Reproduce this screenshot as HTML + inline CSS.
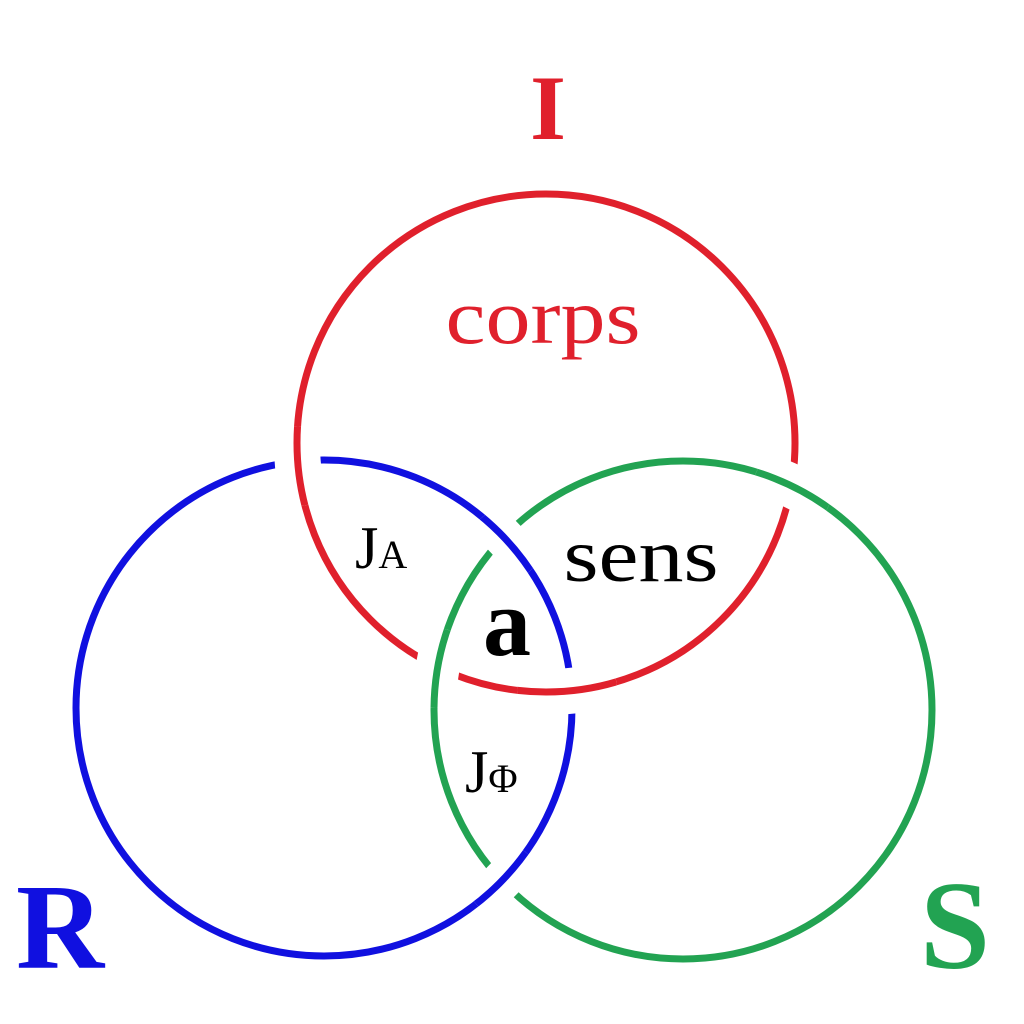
<!DOCTYPE html>
<html><head><style>
html,body{margin:0;padding:0;background:#fff;width:1024px;height:1024px;overflow:hidden}
</style></head><body>
<svg width="1024" height="1024" viewBox="0 0 1024 1024" xmlns="http://www.w3.org/2000/svg">
<defs>
<clipPath id="c1"><circle cx="298" cy="466" r="40"/></clipPath>
<clipPath id="c2"><circle cx="567" cy="690" r="50"/></clipPath>
<clipPath id="c3"><circle cx="505" cy="545" r="36"/></clipPath>
<clipPath id="c4"><circle cx="503" cy="880" r="36"/></clipPath>
<clipPath id="c5"><circle cx="792" cy="490" r="40"/></clipPath>
<clipPath id="c6"><circle cx="436" cy="668" r="40"/></clipPath>
</defs>
<g fill="none" stroke-width="7">
<circle cx="546" cy="443" r="249" stroke="#e0202c"/>
<circle cx="324" cy="708" r="248" stroke="#1010e0"/>
<circle cx="683" cy="710" r="249" stroke="#22a352"/>
<g clip-path="url(#c1)"><circle cx="546" cy="443" r="249" stroke="#fff" stroke-width="46"/><circle cx="546" cy="443" r="249" stroke="#e0202c"/></g>
<g clip-path="url(#c2)"><circle cx="546" cy="443" r="249" stroke="#fff" stroke-width="46"/><circle cx="546" cy="443" r="249" stroke="#e0202c"/></g>
<g clip-path="url(#c3)"><circle cx="324" cy="708" r="248" stroke="#fff" stroke-width="40"/><circle cx="324" cy="708" r="248" stroke="#1010e0"/></g>
<g clip-path="url(#c4)"><circle cx="324" cy="708" r="248" stroke="#fff" stroke-width="40"/><circle cx="324" cy="708" r="248" stroke="#1010e0"/></g>
<g clip-path="url(#c5)"><circle cx="683" cy="710" r="249" stroke="#fff" stroke-width="44"/><circle cx="683" cy="710" r="249" stroke="#22a352"/></g>
<g clip-path="url(#c6)"><circle cx="683" cy="710" r="249" stroke="#fff" stroke-width="44"/><circle cx="683" cy="710" r="249" stroke="#22a352"/></g>
</g>
<g font-family="Liberation Serif, serif">
<text x="548" y="139" font-size="92" font-weight="bold" fill="#e0202c" text-anchor="middle">I</text>
<text x="543" y="343" font-size="78" fill="#e0202c" text-anchor="middle" textLength="195" lengthAdjust="spacingAndGlyphs">corps</text>
<text x="355" y="568" font-size="60" fill="#000">J<tspan font-size="40">A</tspan></text>
<text x="641" y="581" font-size="76" fill="#000" text-anchor="middle" textLength="155" lengthAdjust="spacingAndGlyphs">sens</text>
<text x="507" y="655" font-size="96" font-weight="bold" fill="#000" text-anchor="middle">a</text>
<text x="465" y="792" font-size="60" fill="#000">J<tspan font-size="40">Φ</tspan></text>
<text x="60" y="968" font-size="122" font-weight="bold" fill="#1010e0" text-anchor="middle">R</text>
<text x="955" y="968" font-size="126" font-weight="bold" fill="#22a352" text-anchor="middle">S</text>
</g>
</svg>
</body></html>
